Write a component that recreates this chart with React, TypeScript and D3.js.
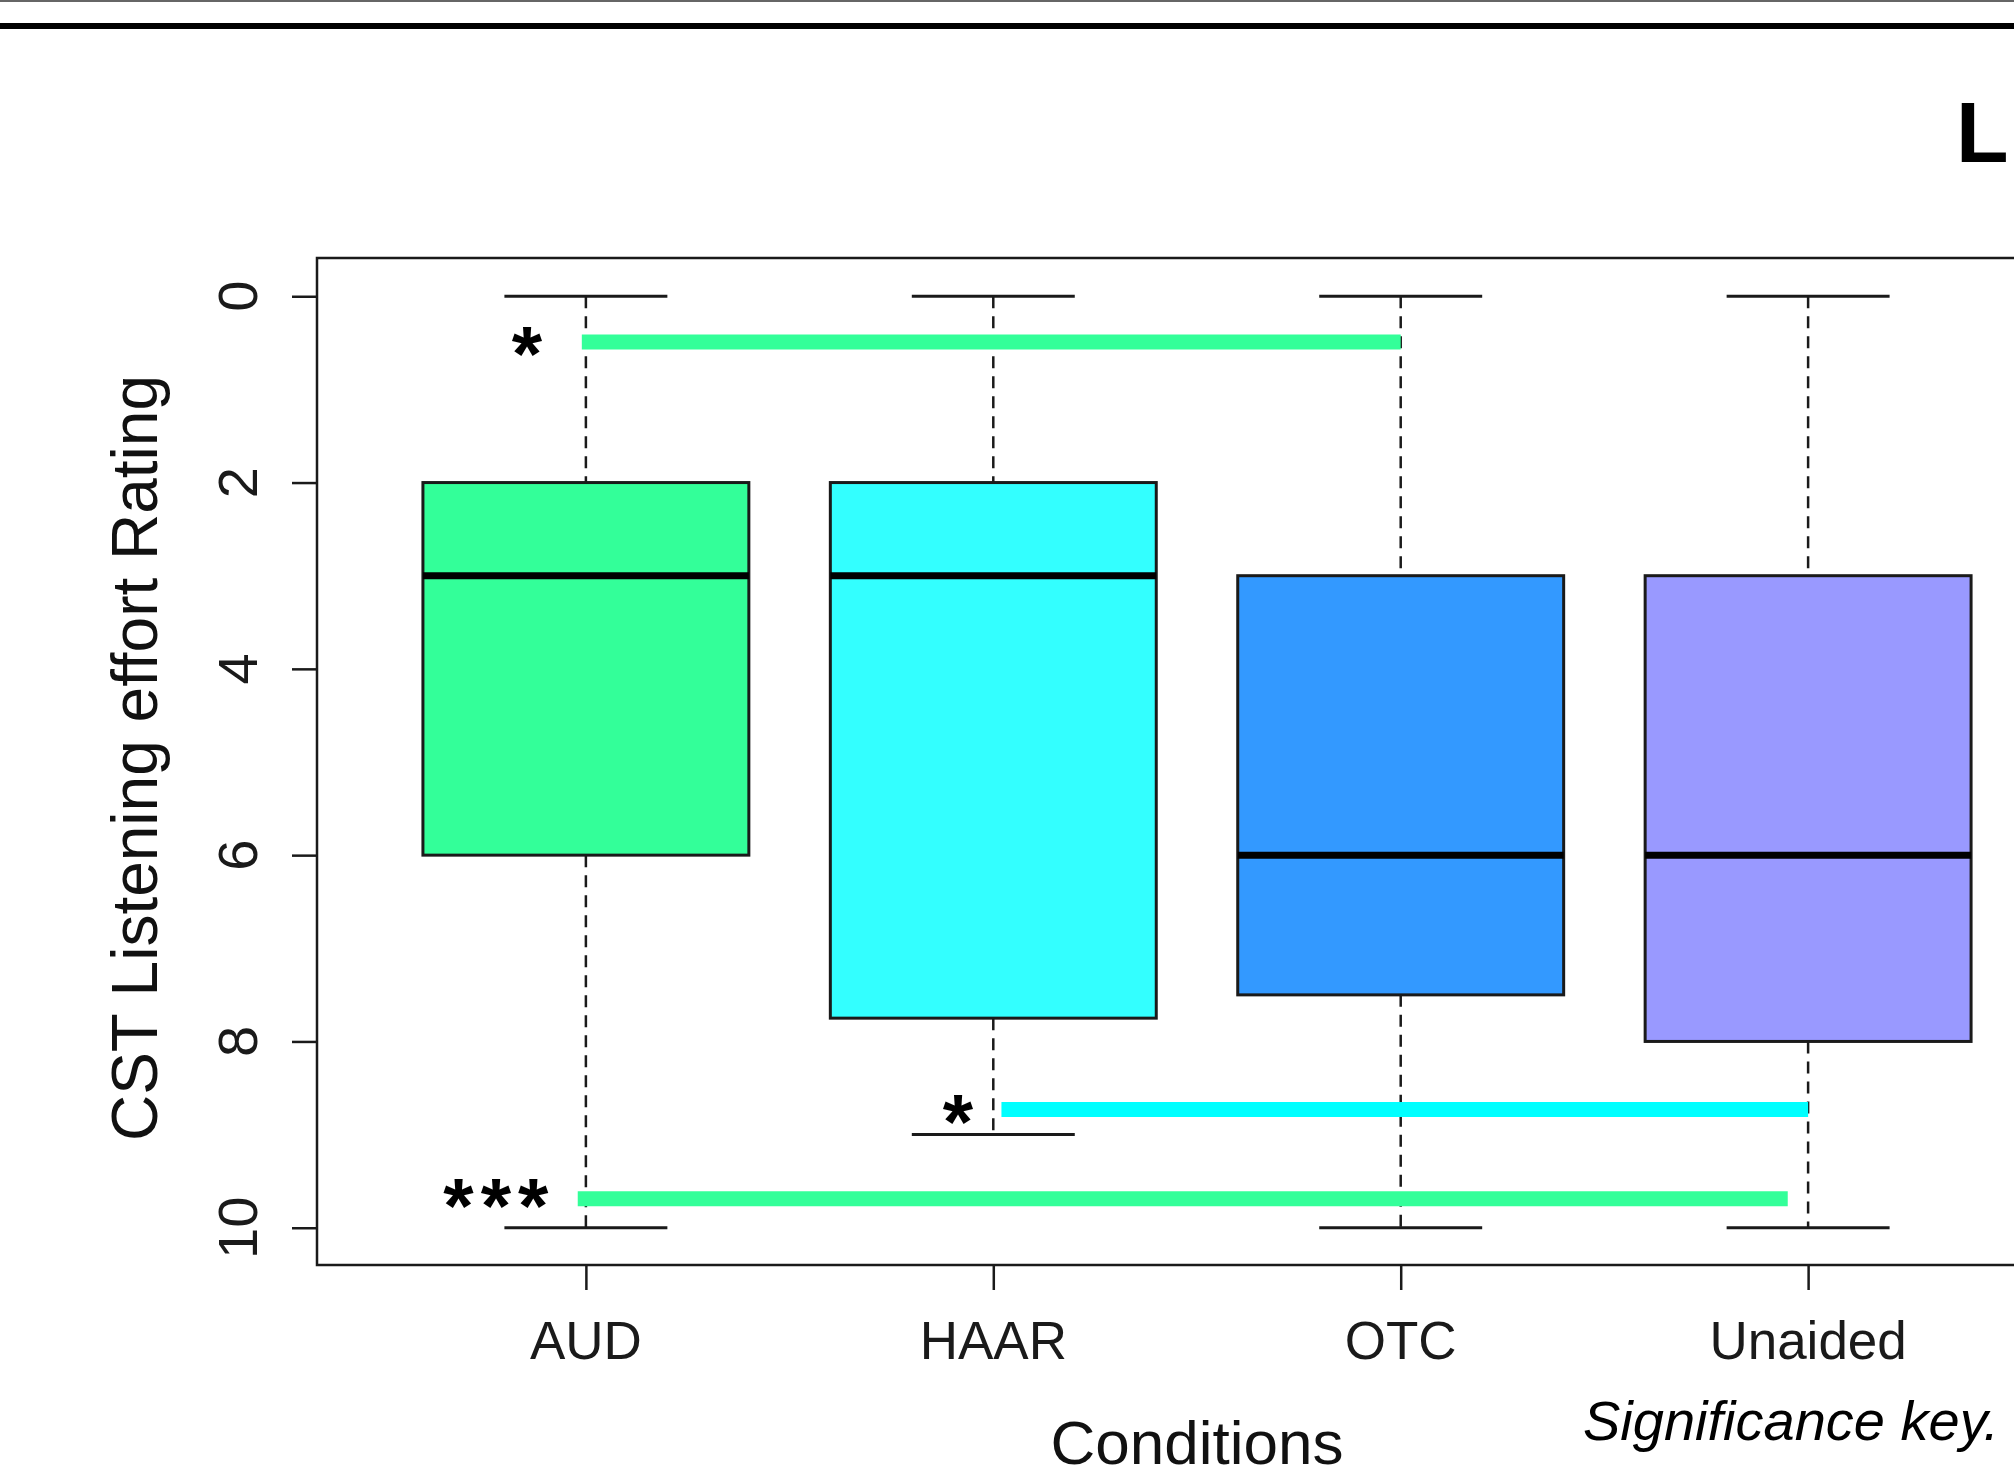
import * as d3 from "d3";
import { useEffect, useRef } from "react";

const conditions = ["AUD", "HAAR", "OTC", "Unaided"];
const whiskerLow = [0, 0, 0, 0];
const q1 = [2, 2, 3, 3];
const medians = [3, 3, 6, 6];
const q3 = [6, 7.75, 7.5, 8];
const whiskerHigh = [10, 9, 10, 10];
const boxColors = ["#33FF99", "#33FFFF", "#3399FF", "#9999FF"];
const yTicks = [0, 2, 4, 6, 8, 10];

// significance bars (x in box positions, y in rating units)
const sigFrom = [0.99, 2.02, 0.98];
const sigTo = [3.0, 4.0, 3.95];
const sigY = [0.49, 8.73, 9.69];
const sigColors = ["#33FF99", "#00FFFF", "#33FF99"];
const sigLabels = ["*", "*", "***"];
const sigLabelX = [0.855, 1.913, 0.779];
const sigLabelY = [0.52, 8.77, 9.67];

const W = 2014;
const H = 1478;
const FONT = "'Liberation Sans', Arial, sans-serif";

export default function App() {
    const svgRef = useRef<SVGSVGElement | null>(null);

    useEffect(() => {
        if (!svgRef.current) return;
        const svg = d3.select(svgRef.current);
        svg.selectAll("*").remove();

        const left = 317;
        const top = 259;
        const bottom = 1265;

        const x = d3.scaleLinear().domain([0.34, 4.66]).range([left, 2077]);
        const y = d3.scaleLinear().domain([-0.4, 10.4]).range([top, bottom]);
        const unit = x(2) - x(1);

        svg.append("rect").attr("width", W).attr("height", H).attr("fill", "#fff");

        // rules at the top of the figure
        svg.append("line")
            .attr("x1", 0).attr("x2", W).attr("y1", 1).attr("y2", 1)
            .attr("stroke", "#666").attr("stroke-width", 2);
        svg.append("line")
            .attr("x1", 0).attr("x2", W).attr("y1", 26).attr("y2", 26)
            .attr("stroke", "#000").attr("stroke-width", 6);

        svg.append("text")
            .attr("x", 1956).attr("y", 162)
            .attr("font-family", FONT).attr("font-weight", "bold")
            .attr("font-size", 86).attr("fill", "#000")
            .text("L");

        const ink = "#1a1a1a";

        conditions.forEach((c, i) => {
            const cx = x(i + 1);
            const g = svg.append("g");
            g.append("line")
                .attr("x1", cx).attr("x2", cx)
                .attr("y1", y(whiskerLow[i])).attr("y2", y(q1[i]))
                .attr("stroke", ink).attr("stroke-width", 2.5)
                .attr("stroke-dasharray", "12,8");
            g.append("line")
                .attr("x1", cx).attr("x2", cx)
                .attr("y1", y(q3[i])).attr("y2", y(whiskerHigh[i]))
                .attr("stroke", ink).attr("stroke-width", 2.5)
                .attr("stroke-dasharray", "12,8");
            [whiskerLow[i], whiskerHigh[i]].forEach((v) => {
                g.append("line")
                    .attr("x1", cx - unit * 0.2).attr("x2", cx + unit * 0.2)
                    .attr("y1", y(v)).attr("y2", y(v))
                    .attr("stroke", ink).attr("stroke-width", 3);
            });
            g.append("rect")
                .attr("x", cx - unit * 0.4).attr("width", unit * 0.8)
                .attr("y", y(q1[i])).attr("height", y(q3[i]) - y(q1[i]))
                .attr("fill", boxColors[i])
                .attr("stroke", ink).attr("stroke-width", 3);
            g.append("line")
                .attr("x1", cx - unit * 0.4).attr("x2", cx + unit * 0.4)
                .attr("y1", y(medians[i])).attr("y2", y(medians[i]))
                .attr("stroke", "#000").attr("stroke-width", 7);
        });

        // significance bars
        sigY.forEach((v, i) => {
            const multi = sigLabels[i].length > 1;
            svg.append("line")
                .attr("x1", x(sigFrom[i])).attr("x2", x(sigTo[i]))
                .attr("y1", y(v)).attr("y2", y(v))
                .attr("stroke", sigColors[i]).attr("stroke-width", 15);
            svg.append("text")
                .attr("x", x(sigLabelX[i]) + (multi ? 3.5 : 0))
                .attr("y", y(sigLabelY[i]) + 36)
                .attr("text-anchor", "middle")
                .attr("letter-spacing", multi ? 7 : 0)
                .attr("font-family", FONT).attr("font-size", 78)
                .attr("font-weight", "bold")
                .attr("fill", "#000")
                .text(sigLabels[i]);
        });

        // frame
        svg.append("rect")
            .attr("x", left).attr("y", top - 1)
            .attr("width", 1900).attr("height", bottom - top + 1)
            .attr("fill", "none").attr("stroke", ink).attr("stroke-width", 2.5);

        // y axis
        const yAxis = svg.append("g")
            .attr("transform", `translate(${left},0)`)
            .call(d3.axisLeft(y).tickValues(yTicks).tickSize(25).tickFormat(() => ""));
        yAxis.select(".domain").remove();
        yAxis.selectAll(".tick line").attr("stroke", ink).attr("stroke-width", 2.5);

        svg.append("g").selectAll("text")
            .data(yTicks)
            .join("text")
            .attr("transform", (d) => `translate(257,${y(d)}) rotate(-90)`)
            .attr("text-anchor", "middle")
            .attr("font-family", FONT).attr("font-size", 56)
            .attr("fill", "#1a1a1a")
            .text((d) => d);

        // x axis
        const xAxis = svg.append("g")
            .attr("transform", `translate(0,${bottom})`)
            .call(
                d3.axisBottom(x)
                    .tickValues(conditions.map((_, i) => i + 1))
                    .tickSize(25)
                    .tickFormat(() => "")
            );
        xAxis.select(".domain").remove();
        xAxis.selectAll(".tick line").attr("stroke", ink).attr("stroke-width", 2.5);

        svg.append("g").selectAll("text")
            .data(conditions)
            .join("text")
            .attr("x", (_, i) => x(i + 1))
            .attr("y", 1359)
            .attr("text-anchor", "middle")
            .attr("font-family", FONT).attr("font-size", 53)
            .attr("fill", "#1a1a1a")
            .text((d) => d);

        svg.append("text")
            .attr("x", 1197).attr("y", 1464)
            .attr("text-anchor", "middle")
            .attr("font-family", FONT).attr("font-size", 62)
            .attr("fill", "#111")
            .text("Conditions");

        svg.append("text")
            .attr("transform", `translate(157,${(y(0) + y(10)) / 2 - 4}) rotate(-90)`)
            .attr("text-anchor", "middle")
            .attr("font-family", FONT).attr("font-size", 64)
            .attr("fill", "#111")
            .text("CST Listening effort Rating");

        svg.append("text")
            .attr("x", 1583).attr("y", 1440)
            .attr("font-family", FONT).attr("font-style", "italic")
            .attr("font-size", 56).attr("fill", "#000")
            .text("Significance key.");
    }, []);

    return (
        <svg
            ref={svgRef}
            width={W}
            height={H}
            style={{ position: "absolute", left: 0, top: 0, display: "block" }}
        />
    );
}
